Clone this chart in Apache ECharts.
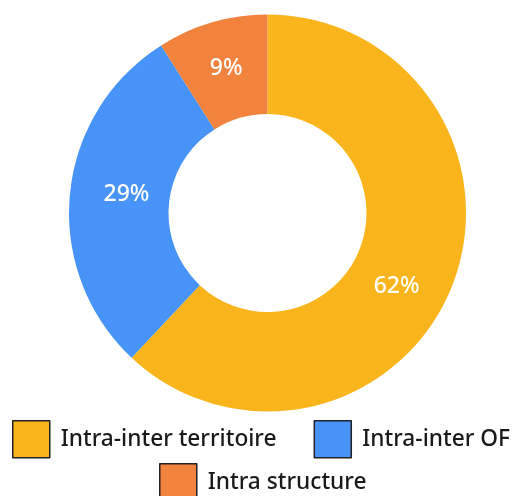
<!DOCTYPE html>
<html><head><meta charset="utf-8">
<script src="https://cdn.jsdelivr.net/npm/echarts@6/dist/echarts.min.js"></script>
<style>html,body{margin:0;padding:0;background:#fff}#c{width:515px;height:496px}</style>
</head><body><div id="c"></div>
<script>
const categories = ['Intra-inter territoire', 'Intra-inter OF', 'Intra structure'];
const values = [62, 29, 9];
const colors = ['#FBB51C', '#4893F8', '#F2833E'];

const chart = echarts.init(document.getElementById('c'), null, {renderer: 'canvas'});
const legendText = {fontFamily: 'Noto Sans', fontSize: 22.7, fontWeight: 500, color: '#1a1a1a', padding: [0, 0, 0, 6]};
const labelShift = [[-12, 18], [10, -4], [1, 1]];
chart.setOption({
  animation: false,
  color: colors,
  legend: [{
    data: categories.slice(0, 2),
    top: 420, left: 12, padding: 0, width: 600,
    itemWidth: 37, itemHeight: 37, itemGap: 37,
    icon: 'rect',
    itemStyle: {borderColor: '#222', borderWidth: 1.5},
    textStyle: legendText
  }, {
    data: categories.slice(2),
    top: 463, left: 159, padding: 0, width: 400,
    itemWidth: 37, itemHeight: 37,
    icon: 'rect',
    itemStyle: {borderColor: '#222', borderWidth: 1.5},
    textStyle: legendText
  }],
  series: [{
    type: 'pie',
    center: [267.5, 213],
    radius: [99, 198.5],
    startAngle: 90,
    clockwise: true,
    label: {
      position: 'inside',
      formatter: '{c}%',
      color: '#fff',
      fontFamily: 'Noto Sans',
      fontWeight: 500,
      fontSize: 23
    },
    labelLayout: function (p) { return {dx: labelShift[p.dataIndex][0], dy: labelShift[p.dataIndex][1]}; },
    labelLine: {show: false},
    emphasis: {disabled: true},
    data: categories.map((n, i) => ({name: n, value: values[i]}))
  }]
});
</script></body></html>
